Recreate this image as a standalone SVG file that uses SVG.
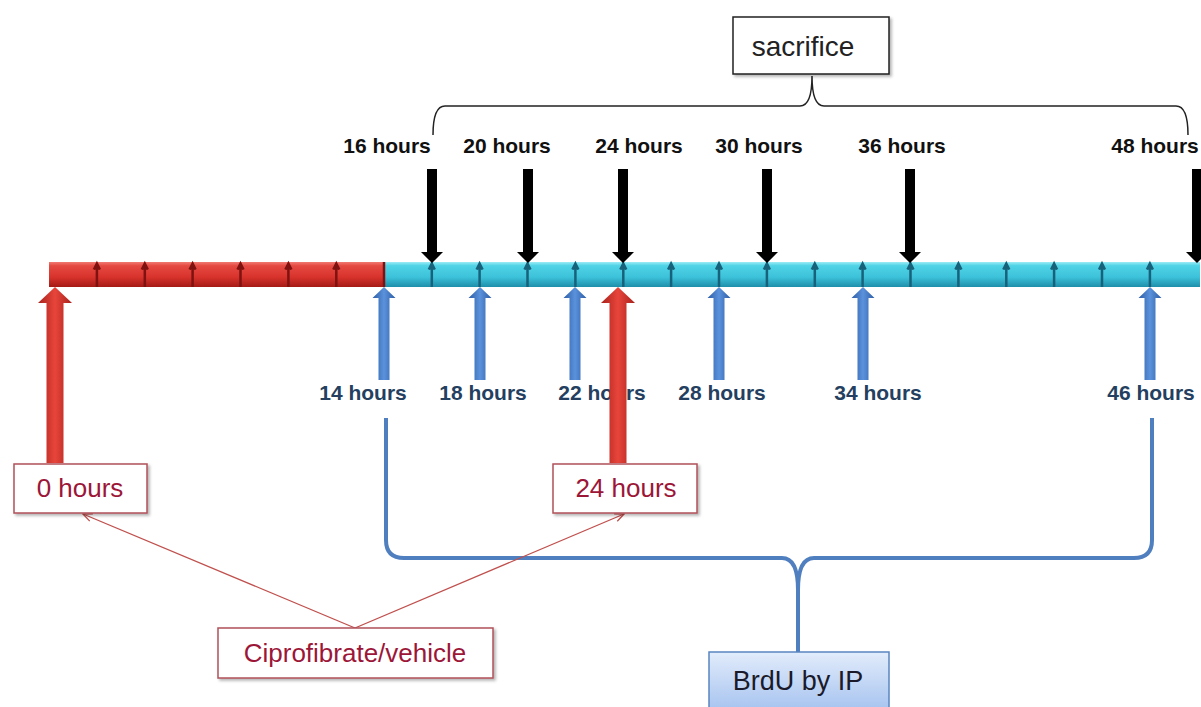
<svg xmlns="http://www.w3.org/2000/svg" width="1201" height="707" viewBox="0 0 1201 707">
<defs>
<linearGradient id="gRed" x1="0" y1="0" x2="0" y2="1">
<stop offset="0" stop-color="#f07a72"/><stop offset="0.15" stop-color="#e44a42"/><stop offset="0.6" stop-color="#d8332c"/><stop offset="1" stop-color="#a51a16"/>
</linearGradient>
<linearGradient id="gCyan" x1="0" y1="0" x2="0" y2="1">
<stop offset="0" stop-color="#9cecf6"/><stop offset="0.15" stop-color="#4fd3e6"/><stop offset="0.6" stop-color="#3cc2da"/><stop offset="1" stop-color="#1f8fab"/>
</linearGradient>
<linearGradient id="gRedArrow" x1="0" y1="0" x2="1" y2="0">
<stop offset="0" stop-color="#a8221c"/><stop offset="0.5" stop-color="#e8453b"/><stop offset="1" stop-color="#a8221c"/>
</linearGradient>
<linearGradient id="gBlueArrow" x1="0" y1="0" x2="1" y2="0">
<stop offset="0" stop-color="#2e5ea6"/><stop offset="0.5" stop-color="#5b92dc"/><stop offset="1" stop-color="#2e5ea6"/>
</linearGradient>
<linearGradient id="gBrdU" x1="0" y1="0" x2="0" y2="1">
<stop offset="0" stop-color="#e2ecfb"/><stop offset="1" stop-color="#a9c5f0"/>
</linearGradient>
<filter id="sh" x="-10%" y="-20%" width="130%" height="160%">
<feDropShadow dx="2" dy="2" stdDeviation="1.5" flood-color="#000" flood-opacity="0.3"/>
</filter>
<marker id="mArr" viewBox="0 0 10 10" refX="9" refY="5" markerWidth="10" markerHeight="10" markerUnits="userSpaceOnUse" orient="auto">
<path d="M0,1 L9,5 L0,9" fill="none" stroke="#c0504d" stroke-width="1.3"/>
</marker>
<path id="divR" d="M0,287 V268 M-3,269.5 L0,263.5 L3,269.5" stroke="#7e1210" stroke-width="2.5" fill="#7e1210"/>
<path id="divC" d="M0,287 V268 M-3,269.5 L0,263.5 L3,269.5" stroke="#17627a" stroke-width="2.5" fill="#17627a"/>
<path id="blackArrow" d="M-5,169 H5 V252 H11 L0,263 L-11,252 H-5 Z" fill="#000"/>
<path id="blueArrow" d="M0,287 L11.5,298 H5.5 V380 H-5.5 V298 H-11.5 Z" fill="url(#gBlueArrow)"/>
<path id="redArrow" d="M0,287 L17,303 H8.5 V463 H-8.5 V303 H-17 Z" fill="url(#gRedArrow)"/>
</defs>
<style>
.top{font-family:"Liberation Sans",Arial,sans-serif;font-weight:bold;font-size:21px;fill:#111;text-anchor:middle}
.bot{font-family:"Liberation Sans",Arial,sans-serif;font-weight:bold;font-size:21px;fill:#243f60;text-anchor:middle}
.box{fill:#fff;stroke:#b0505a;stroke-width:1.5}
.lbl{font-family:"Liberation Sans",Arial,sans-serif;font-size:26px;fill:#9c1638;text-anchor:middle}
</style>
<rect width="1201" height="707" fill="#fff"/>

<g id="timeline">
<rect x="49" y="262" width="335" height="25" fill="url(#gRed)"/>
<rect x="384" y="262" width="816" height="25" fill="url(#gCyan)"/>
<use href="#divR" x="96.9"/><use href="#divR" x="144.8"/><use href="#divR" x="192.6"/><use href="#divR" x="240.5"/><use href="#divR" x="288.4"/><use href="#divR" x="336.3"/>
<line x1="384" y1="262" x2="384" y2="287" stroke="#7e1210" stroke-width="2.5"/>
<use href="#divC" x="431.8"/><use href="#divC" x="479.6"/><use href="#divC" x="527.5"/><use href="#divC" x="575.4"/><use href="#divC" x="623.3"/><use href="#divC" x="671.1"/><use href="#divC" x="719"/><use href="#divC" x="766.9"/><use href="#divC" x="814.8"/><use href="#divC" x="862.6"/><use href="#divC" x="910.5"/><use href="#divC" x="958.4"/><use href="#divC" x="1006.3"/><use href="#divC" x="1054.1"/><use href="#divC" x="1102"/><use href="#divC" x="1149.9"/>
</g>

<g id="sacrifice-arrows">
<use href="#blackArrow" x="432"/><use href="#blackArrow" x="528"/><use href="#blackArrow" x="623"/><use href="#blackArrow" x="767"/><use href="#blackArrow" x="910"/><use href="#blackArrow" x="1197"/>
</g>

<g id="top-labels">
<text class="top" x="387" y="153">16 hours</text>
<text class="top" x="507" y="153">20 hours</text>
<text class="top" x="639" y="153">24 hours</text>
<text class="top" x="759" y="153">30 hours</text>
<text class="top" x="902" y="153">36 hours</text>
<text class="top" x="1155" y="153">48 hours</text>
</g>

<g id="brdu-arrows">
<use href="#blueArrow" x="384"/><use href="#blueArrow" x="480"/><use href="#blueArrow" x="575"/><use href="#blueArrow" x="719"/><use href="#blueArrow" x="863"/><use href="#blueArrow" x="1150"/>
</g>

<g id="bottom-labels">
<text class="bot" x="363" y="400">14 hours</text>
<text class="bot" x="483" y="400">18 hours</text>
<text class="bot" x="602" y="400">22 hours</text>
<text class="bot" x="722" y="400">28 hours</text>
<text class="bot" x="878" y="400">34 hours</text>
<text class="bot" x="1151" y="400">46 hours</text>
</g>

<g id="dose-arrows">
<use href="#redArrow" x="55"/><use href="#redArrow" x="618"/>
</g>

<g id="connectors">
<path d="M433,135 Q433,106 445,106 H800 Q812,106 812,76 Q812,106 824,106 H1176 Q1188,106 1188,135" fill="none" stroke="#222" stroke-width="1.5"/>
<path d="M386,418 V540 Q386,558 404,558 H782 Q798,558 798,590 V652 M798,590 Q798,558 814,558 H1134 Q1152,558 1152,540 V418" fill="none" stroke="#4f7fbf" stroke-width="4" stroke-linejoin="round"/>
<line x1="355" y1="628" x2="83" y2="514" stroke="#c0504d" stroke-width="1.3" marker-end="url(#mArr)"/>
<line x1="355" y1="628" x2="624" y2="514" stroke="#c0504d" stroke-width="1.3" marker-end="url(#mArr)"/>
</g>

<g id="node-sacrifice">
<rect x="733" y="17" width="156" height="57" fill="#fff" stroke="#222" stroke-width="1.5" filter="url(#sh)"/>
<text x="803" y="56" font-family="Liberation Sans, Arial, sans-serif" font-size="28" fill="#222" text-anchor="middle">sacrifice</text>
</g>

<g id="node-0hours">
<rect class="box" x="14" y="464" width="133" height="49" filter="url(#sh)"/>
<text class="lbl" x="80" y="497">0 hours</text>
</g>

<g id="node-24hours">
<rect class="box" x="553" y="464" width="144" height="49" filter="url(#sh)"/>
<text class="lbl" x="626" y="497">24 hours</text>
</g>

<g id="node-cipro">
<rect class="box" x="218" y="628" width="275" height="50" filter="url(#sh)"/>
<text class="lbl" x="355" y="662" font-size="27">Ciprofibrate/vehicle</text>
</g>

<g id="node-brdu">
<rect x="709" y="652" width="180" height="56" fill="url(#gBrdU)" stroke="#5a85c0" stroke-width="1.5"/>
<text x="798" y="690" font-family="Liberation Sans, Arial, sans-serif" font-size="27" fill="#1a1a2a" text-anchor="middle">BrdU by IP</text>
</g>
</svg>
